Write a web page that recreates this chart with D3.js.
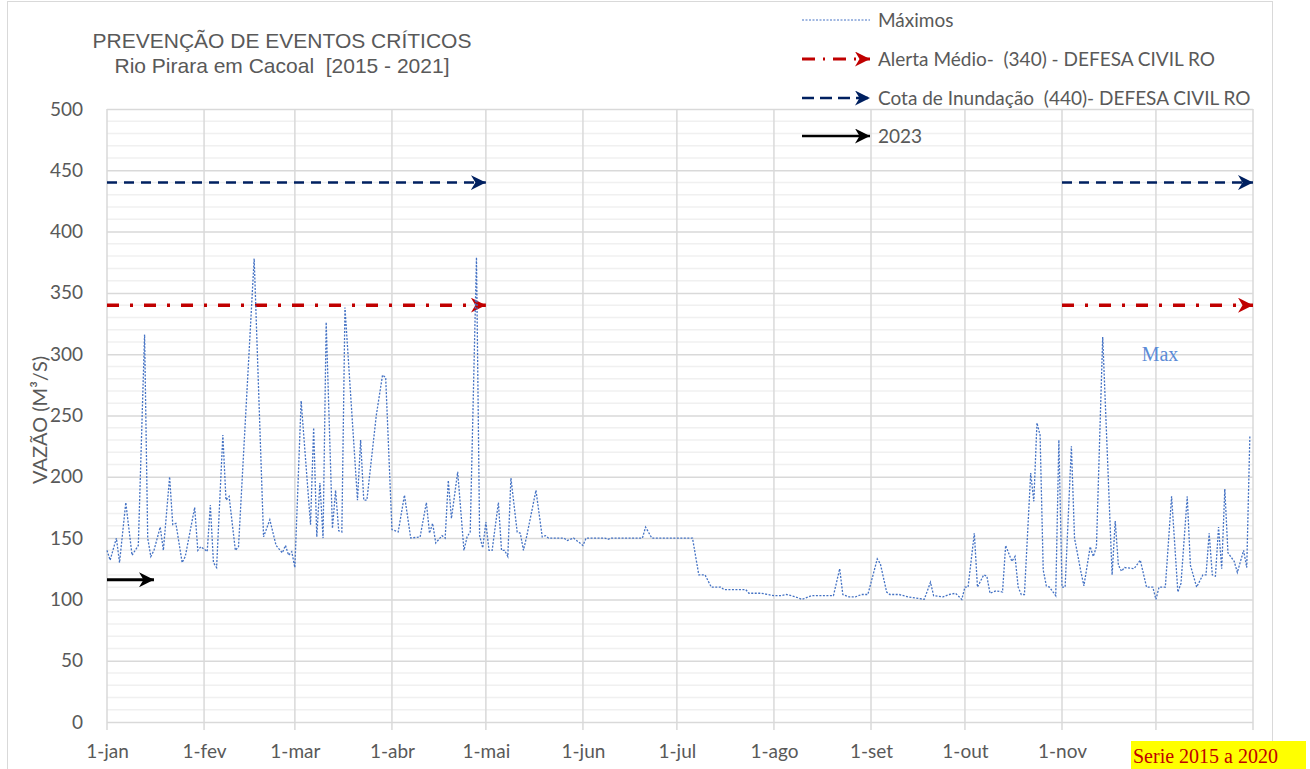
<!DOCTYPE html>
<html>
<head>
<meta charset="utf-8">
<script src="https://cdn.jsdelivr.net/npm/d3@7"></script>
<style>
  body { margin: 0; background: #fff; }
  svg { display: block; }
  text { white-space: pre; }
</style>
</head>
<body>
<script>
// chart data (day of year, 0 = 1-jan)
// 1-dez has no label: the "Serie 2015 a 2020" note hides it
const monthLabels = ["1-jan", "1-fev", "1-mar", "1-abr", "1-mai", "1-jun", "1-jul", "1-ago", "1-set", "1-out", "1-nov"];
const monthStartDays = [0, 31, 60, 91, 121, 152, 182, 213, 244, 274, 305, 335];
const yTicks = [0, 50, 100, 150, 200, 250, 300, 350, 400, 450, 500];

const maxDays = [0, 1, 3, 4, 6, 8, 10, 12, 13, 14, 15, 17, 18, 20, 21, 22, 24, 25, 28, 29, 30, 32, 33, 34, 35, 37, 38, 39, 41, 42, 47, 50, 52, 54, 56, 57, 58, 59, 60, 62,
  65, 66, 67, 68, 69, 70, 72, 73, 74, 75, 76, 80, 81, 82, 83, 86, 88, 89, 91, 93, 95, 97, 100, 102, 103, 104, 105, 107, 108, 109, 110, 112, 114, 115, 116, 118, 119, 120,
  121, 122, 123, 125, 126, 127, 128, 129, 131, 132, 133, 134, 137, 139, 140, 141, 146, 147, 149, 152, 153, 159, 160, 161, 171, 172, 174, 187, 189, 191, 193, 196, 197,
  204, 205, 209, 213, 215, 217, 220, 222, 225, 232, 234, 235, 237, 239, 241, 243, 246, 247, 249, 250, 253, 256, 261, 263, 264, 267, 269, 271, 273, 274, 275, 277, 278,
  280, 281, 282, 284, 286, 287, 289, 290, 291, 292, 293, 295, 296, 297, 298, 299, 300, 301, 303, 304, 305, 306, 308, 309, 311, 312, 314, 315, 316, 318, 321, 322, 323,
  324, 325, 328, 330, 332, 334, 335, 336, 338, 340, 342, 343, 345, 346, 348, 350, 351, 352, 353, 354, 355, 356, 357, 358, 360, 361, 363, 364, 365];
const maxValues = [140, 132, 150, 130, 179, 136, 144, 316, 150, 135, 140, 159, 140, 200, 161, 162, 130, 135, 175, 140, 143, 139, 177, 130, 126, 234, 181, 184, 140, 143, 378, 151, 165, 144, 138, 144, 136, 139, 126, 262,
  161, 240, 151, 195, 150, 326, 158, 189, 156, 155, 338, 181, 230, 181, 181, 250, 283, 281, 157, 155, 185, 150, 151, 179, 154, 162, 146, 152, 150, 197, 166, 204, 140, 151, 155, 379, 152, 142,
  163, 140, 140, 179, 140, 140, 135, 199, 155, 154, 140, 151, 189, 151, 152, 150, 150, 148, 150, 144, 150, 150, 149, 150, 150, 159, 150, 150, 120, 120, 110, 110, 108,
  108, 105, 105, 103, 103, 104, 102, 100, 103, 103, 125, 104, 102, 102, 104, 104, 133, 129, 106, 104, 104, 102, 100, 114, 103, 102, 104, 105, 100, 110, 110, 154, 110,
  120, 119, 105, 107, 106, 144, 131, 135, 110, 104, 104, 203, 180, 244, 234, 124, 111, 110, 103, 230, 110, 110, 225, 150, 123, 111, 143, 135, 143, 314, 120, 164, 128,
  123, 126, 125, 132, 110, 110, 100, 110, 110, 184, 106, 113, 184, 128, 110, 120, 120, 154, 120, 119, 159, 125, 190, 138, 131, 122, 140, 126, 234];

// reference levels (Defesa Civil RO) and the periods they are drawn over
const alertLevel = 340;
const floodLevel = 440;
const levelPeriods = [[0, 121], [305, 366]];
const level2023 = 116;
const period2023 = [0, 15];

const legendLabels = ["Máximos", "Alerta Médio-  (340) - DEFESA CIVIL RO", "Cota de Inundação  (440)- DEFESA CIVIL RO", "2023"];

let margin = null, width = null, height = null;
let svg = null, root = null;
let x, y = null;

const gray = "#595959";
const seriesColor = "#4472c4";
const alertColor = "#c00000";
const floodColor = "#002060";

setupCanvasSize();
appendSvg("body");
drawChart();

function setupCanvasSize() {
  margin = { top: 109, left: 107, bottom: 47, right: 57 };
  width = 1310 - margin.left - margin.right;   // 1146
  height = 769 - margin.top - margin.bottom;   // 613
}

function appendSvg(domElement) {
  root = d3.select(domElement).append("svg")
    .attr("width", 1310)
    .attr("height", 769);

  root.append("rect")
    .attr("x", 7.5).attr("y", 1.5)
    .attr("width", 1265).attr("height", 800)
    .attr("fill", "#fff")
    .attr("stroke", "#d9d9d9");

  appendMarkers();

  svg = root.append("g")
    .attr("transform", `translate(${margin.left}, ${margin.top})`);
}

function appendMarkers() {
  const defs = root.append("defs");
  [["arrowRed", alertColor], ["arrowNavy", floodColor], ["arrowBlack", "#000"]].forEach(function (m) {
    defs.append("marker")
      .attr("id", m[0])
      .attr("viewBox", "0 0 10 10")
      .attr("refX", 10).attr("refY", 5)
      .attr("markerUnits", "userSpaceOnUse")
      .attr("markerWidth", 15).attr("markerHeight", 15)
      .attr("orient", "auto")
      .append("path")
      .attr("d", "M0,0 L10,5 L0,10 L3,5 Z")
      .attr("fill", m[1]);
  });
}

function drawChart() {
  setupXScale();
  setupYScale();
  appendGrid();
  appendXAxis();
  appendYAxis();
  appendLevelLines();
  appendSeries();
  appendTitle();
  appendLegend();
  appendNotes();
}

function setupXScale() {
  x = d3.scaleLinear().domain([0, 366]).range([0, width]);
}

function setupYScale() {
  y = d3.scaleLinear().domain([0, 500]).range([height, 0]);
}

function appendGrid() {
  // minor horizontal lines every 10
  svg.append("g")
    .selectAll("line")
    .data(d3.range(10, 500, 10).filter(v => v % 50 !== 0))
    .enter().append("line")
    .attr("x1", 0).attr("x2", width)
    .attr("y1", d => y(d)).attr("y2", d => y(d))
    .attr("stroke", "#f0f0f0")
    .attr("stroke-width", 1.5);

  // major horizontal lines every 50
  svg.append("g")
    .call(d3.axisLeft(y).tickValues(yTicks).tickSize(-width).tickFormat(""))
    .call(g => g.select(".domain").remove())
    .call(g => g.selectAll("line").attr("stroke", "#d9d9d9").attr("stroke-width", 1.5));

  // vertical month lines, prolonged below the axis as tick marks
  svg.append("g")
    .selectAll("line")
    .data(monthStartDays.concat([366]))
    .enter().append("line")
    .attr("x1", d => x(d)).attr("x2", d => x(d))
    .attr("y1", 0).attr("y2", height + 8)
    .attr("stroke", "#d9d9d9")
    .attr("stroke-width", 1.5);
}

function appendXAxis() {
  svg.append("g")
    .attr("transform", `translate(0, ${height})`)
    .call(d3.axisBottom(x).tickValues(monthStartDays.slice(0, monthLabels.length)).tickSize(0).tickPadding(23)
      .tickFormat((d, i) => monthLabels[i]))
    .call(g => g.select(".domain").remove())
    .call(g => g.selectAll("text")
      .attr("fill", gray)
      .style("font-family", "Lato, sans-serif")
      .style("font-size", "19px"));
}

function appendYAxis() {
  svg.append("g")
    .call(d3.axisLeft(y).tickValues(yTicks).tickSize(0).tickPadding(24))
    .call(g => g.select(".domain").remove())
    .call(g => g.selectAll("text")
      .attr("fill", gray)
      .style("font-family", "Lato, sans-serif")
      .style("font-size", "19px"));

  svg.append("text")
    .attr("transform", "rotate(-90)")
    .attr("x", -(420 - margin.top))
    .attr("y", 47 - margin.left)
    .style("text-anchor", "middle")
    .style("font-family", "Lato, sans-serif")
    .style("font-size", "20px")
    .attr("fill", gray)
    .text("VAZÃO (M³/S)");
}

function appendLevelLines() {
  const line = d3.line().x(d => x(d[0])).y(d => y(d[1]));

  levelPeriods.forEach(function (p) {
    svg.append("path")
      .attr("d", line([[p[0], floodLevel], [p[1], floodLevel]]))
      .attr("fill", "none")
      .attr("stroke", floodColor)
      .attr("stroke-width", 2.5)
      .attr("stroke-dasharray", "10,7")
      .attr("marker-end", "url(#arrowNavy)");

    svg.append("path")
      .attr("d", line([[p[0], alertLevel], [p[1], alertLevel]]))
      .attr("fill", "none")
      .attr("stroke", alertColor)
      .attr("stroke-width", 3.5)
      .attr("stroke-dasharray", "12,11,3,11")
      .attr("marker-end", "url(#arrowRed)");
  });

  svg.append("path")
    .attr("d", line([[period2023[0], level2023], [period2023[1], level2023]]))
    .attr("fill", "none")
    .attr("stroke", "#000")
    .attr("stroke-width", 3)
    .attr("marker-end", "url(#arrowBlack)");
}

function appendSeries() {
  const data = maxDays.map((d, i) => ({ day: d, value: maxValues[i] }));

  const valueline = d3.line()
    .x(d => x(d.day))
    .y(d => y(d.value));

  svg.append("path")
    .datum(data)
    .attr("d", valueline)
    .attr("fill", "none")
    .attr("stroke", seriesColor)
    .attr("stroke-width", 1.3)
    .attr("stroke-dasharray", "2,1.5");
}

function appendTitle() {
  const t = root.append("text")
    .attr("text-anchor", "middle")
    .style("font-family", "'Liberation Sans', Arial, sans-serif")
    .style("font-size", "21px")
    .attr("fill", gray);
  t.append("tspan").attr("x", 282).attr("y", 48).text("PREVENÇÃO DE EVENTOS CRÍTICOS");
  t.append("tspan").attr("x", 282).attr("y", 73).text("Rio Pirara em Cacoal  [2015 - 2021]");
}

function appendLegend() {
  const legend = root.append("g").attr("class", "legend");
  const rowY = [20, 59, 98, 136];

  legend.append("line")
    .attr("x1", 802).attr("x2", 870)
    .attr("y1", rowY[0]).attr("y2", rowY[0])
    .attr("stroke", seriesColor)
    .attr("stroke-width", 1)
    .attr("stroke-dasharray", "2,1.5");

  legend.append("line")
    .attr("x1", 802).attr("x2", 870)
    .attr("y1", rowY[1]).attr("y2", rowY[1])
    .attr("stroke", alertColor)
    .attr("stroke-width", 3)
    .attr("stroke-dasharray", "13,8,2,8")
    .attr("marker-end", "url(#arrowRed)");

  legend.append("line")
    .attr("x1", 802).attr("x2", 870)
    .attr("y1", rowY[2]).attr("y2", rowY[2])
    .attr("stroke", floodColor)
    .attr("stroke-width", 2.5)
    .attr("stroke-dasharray", "12,6")
    .attr("marker-end", "url(#arrowNavy)");

  legend.append("line")
    .attr("x1", 802).attr("x2", 870)
    .attr("y1", rowY[3]).attr("y2", rowY[3])
    .attr("stroke", "#000")
    .attr("stroke-width", 2.5)
    .attr("marker-end", "url(#arrowBlack)");

  legend.selectAll("text")
    .data(legendLabels)
    .enter().append("text")
    .attr("x", 878)
    .attr("y", (d, i) => rowY[i] + 7)
    .style("font-family", "Lato, sans-serif")
    .style("font-size", "19px")
    .attr("fill", gray)
    .text(d => d);
}

function appendNotes() {
  root.append("text")
    .attr("x", 1160).attr("y", 361)
    .attr("text-anchor", "middle")
    .style("font-family", "'Liberation Serif', 'Times New Roman', serif")
    .style("font-size", "20px")
    .attr("fill", "#5b8bd6")
    .text("Max");

  root.append("rect")
    .attr("x", 1131).attr("y", 741)
    .attr("width", 175).attr("height", 28)
    .attr("fill", "#ffff00");

  root.append("text")
    .attr("x", 1133).attr("y", 763)
    .style("font-family", "'Liberation Serif', 'Times New Roman', serif")
    .style("font-size", "20px")
    .attr("fill", "#c00000")
    .text("Serie 2015 a 2020");
}
</script>
</body>
</html>
